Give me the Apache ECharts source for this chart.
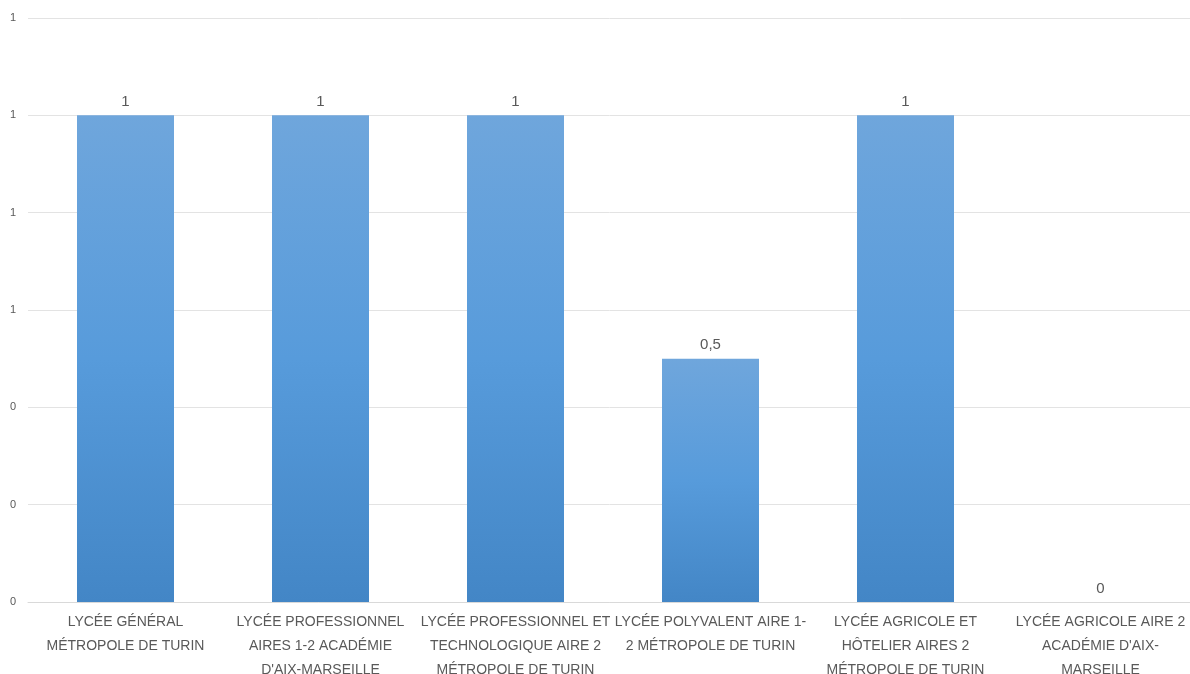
<!DOCTYPE html>
<html>
<head>
<meta charset="utf-8">
<script src="https://cdn.jsdelivr.net/npm/echarts@6/dist/echarts.min.js"></script>
<style>html,body{margin:0;padding:0;background:#fff;overflow:hidden}#c{width:1190px;height:674px}</style>
</head>
<body>
<div id="c"></div>
<script>
const categories = [
  "LYCÉE GÉNÉRAL\nMÉTROPOLE DE TURIN",
  "LYCÉE PROFESSIONNEL\nAIRES 1-2 ACADÉMIE\nD'AIX-MARSEILLE",
  "LYCÉE PROFESSIONNEL ET\nTECHNOLOGIQUE AIRE 2\nMÉTROPOLE DE TURIN",
  "LYCÉE POLYVALENT AIRE 1-\n2 MÉTROPOLE DE TURIN",
  "LYCÉE AGRICOLE ET\nHÔTELIER AIRES 2\nMÉTROPOLE DE TURIN",
  "LYCÉE AGRICOLE AIRE 2\nACADÉMIE D'AIX-\nMARSEILLE"
];
const values = [1, 1, 1, 0.5, 1, 0];
const yTicks = [0, 0.2, 0.4, 0.6, 0.8, 1, 1.2];

const chart = echarts.init(document.getElementById('c'), null, {renderer: 'canvas'});
chart.setOption({
  animation: false,
  backgroundColor: '#ffffff',
  textStyle: {fontFamily: 'Liberation Sans, Arial, sans-serif'},
  grid: {left: 28, top: 18, right: -8, bottom: 72, containLabel: false, outerBoundsMode: 'none'},
  xAxis: {
    type: 'category',
    data: categories,
    axisLine: {show: true, lineStyle: {color: '#d9d9d9'}},
    axisTick: {show: false},
    axisLabel: {
      interval: 0, color: '#595959', fontSize: 14, lineHeight: 24,
      margin: 8, verticalAlign: 'top', fontFamily: 'Liberation Sans, Arial, sans-serif'
    }
  },
  yAxis: {
    type: 'value',
    min: yTicks[0], max: yTicks[yTicks.length - 1], interval: 0.2,
    axisLine: {show: false},
    axisTick: {show: false},
    splitLine: {lineStyle: {color: '#e3e3e3', width: 1}},
    axisLabel: {
      color: '#595959', fontSize: 11, margin: 12,
      formatter: v => String(Math.round(v))
    }
  },
  series: [{
    type: 'bar',
    data: values,
    barWidth: 97,
    itemStyle: {
      color: new echarts.graphic.LinearGradient(0, 0, 0, 1, [
        {offset: 0, color: '#6fa6dc'},
        {offset: 0.5, color: '#579bdb'},
        {offset: 1, color: '#4386c6'}
      ])
    },
    label: {
      show: true, position: 'top', distance: 6,
      color: '#595959', fontSize: 15,
      formatter: p => String(p.value).replace('.', ',')
    }
  }]
});
</script>
</body>
</html>
